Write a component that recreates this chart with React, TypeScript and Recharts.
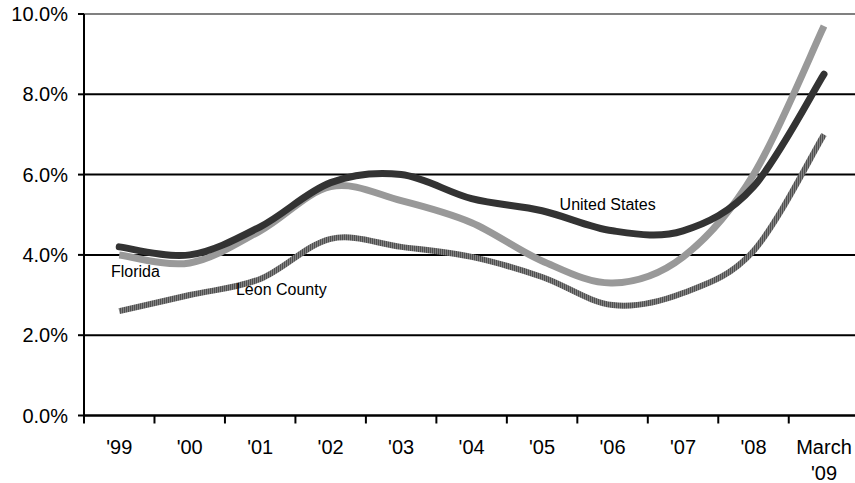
import { LineChart, Line, XAxis, YAxis, CartesianGrid, ReferenceLine, ReferenceDot, Label } from "recharts"

const YEARS = ["'99", "'00", "'01", "'02", "'03", "'04", "'05", "'06", "'07", "'08", "March\n'09"]
const US = [4.2, 4.0, 4.7, 5.8, 6.0, 5.4, 5.1, 4.6, 4.6, 5.7, 8.5]
const FLORIDA = [4.0, 3.8, 4.6, 5.7, 5.35, 4.8, 3.85, 3.3, 3.95, 6.0, 9.7]
const LEON = [2.6, 3.0, 3.4, 4.4, 4.2, 3.95, 3.45, 2.75, 3.05, 4.1, 7.0]
const Y_TICKS = [0, 2, 4, 6, 8, 10]
const BOUNDARY_TICKS = [0, 1, 2, 3, 4, 5, 6, 7, 8, 9, 10]

// series name labels, placed in data coordinates
const SERIES_LABELS = [
    { text: "Florida", x: 0.73, y: 3.6 },
    { text: "Leon County", x: 2.8, y: 3.15 },
    { text: "United States", x: 7.43, y: 5.27 },
]

const FONT = "'Liberation Sans', Arial, sans-serif"
const WIDTH = 855
const HEIGHT = 483
const Y_AXIS_W = 84
const X_MAX = 10.94 // last category runs a little past the right edge
const BAND = (WIDTH - Y_AXIS_W) / X_MAX

const rows = YEARS.map((label, i) => ({
    x: i + 0.5,
    label,
    us: US[i],
    florida: FLORIDA[i],
    leon: LEON[i],
}))

// spreadsheet-style smoothing (Catmull-Rom through every point)
const smoothCurve = (context: any) => {
    let pts: number[][] = []
    return {
        areaStart() {},
        areaEnd() {},
        lineStart() {
            pts = []
        },
        point(x: number, y: number) {
            pts.push([+x, +y])
        },
        lineEnd() {
            if (!pts.length) return
            context.moveTo(pts[0][0], pts[0][1])
            const t = 1 / 6
            for (let i = 0; i < pts.length - 1; i++) {
                const p0 = pts[i - 1] || pts[i]
                const p1 = pts[i]
                const p2 = pts[i + 1]
                const p3 = pts[i + 2] || p2
                context.bezierCurveTo(
                    p1[0] + (p2[0] - p0[0]) * t,
                    p1[1] + (p2[1] - p0[1]) * t,
                    p2[0] - (p3[0] - p1[0]) * t,
                    p2[1] - (p3[1] - p1[1]) * t,
                    p2[0],
                    p2[1]
                )
            }
        },
    }
}

// tick marks sit on category boundaries, labels in the middle of each category
const YearTick = ({ x, y, payload }: any) => {
    const lines = YEARS[payload.value].split("\n")
    const cx = x + BAND / 2
    return (
        <text x={cx} y={y} textAnchor="middle" fontSize={20} fontFamily={FONT} fill="#000">
            {lines.map((line, i) => (
                <tspan key={line} x={cx} dy={i === 0 ? "0.71em" : 26}>
                    {line}
                </tspan>
            ))}
        </text>
    )
}

export default function App() {
    return (
        <div style={{ position: "absolute", left: 0, top: 0, width: WIDTH, height: HEIGHT, background: "#fff" }}>
            <LineChart width={WIDTH} height={HEIGHT} data={rows} margin={{ top: 14, right: 0, left: 0, bottom: 0 }}>
                <defs>
                    <pattern id="leonHatch" patternUnits="userSpaceOnUse" width={2} height={2}>
                        <rect width={2} height={2} fill="#828282" />
                        <rect width={1} height={2} fill="#505050" />
                    </pattern>
                </defs>
                <CartesianGrid vertical={false} stroke="#000" strokeWidth={2} />
                <XAxis
                    type="number"
                    dataKey="x"
                    domain={[0, X_MAX]}
                    ticks={BOUNDARY_TICKS}
                    interval={0}
                    tick={<YearTick />}
                    tickSize={8}
                    tickMargin={16}
                    height={67.5}
                    axisLine={{ stroke: "#000", strokeWidth: 2 }}
                    tickLine={{ stroke: "#000", strokeWidth: 2 }}
                />
                <YAxis
                    domain={[0, 10]}
                    ticks={Y_TICKS}
                    width={Y_AXIS_W}
                    tickSize={6}
                    tickMargin={10}
                    tickFormatter={(v: number) => `${v.toFixed(1)}%`}
                    tick={{ fill: "#000", fontSize: 20, fontFamily: FONT }}
                    axisLine={{ stroke: "#000", strokeWidth: 2 }}
                    tickLine={{ stroke: "#000", strokeWidth: 2 }}
                    interval={0}
                />
                <ReferenceLine y={10} stroke="#808080" strokeWidth={2} />
                <Line
                    type={smoothCurve as any}
                    dataKey="leon"
                    stroke="url(#leonHatch)"
                    strokeWidth={6}
                    dot={false}
                    isAnimationActive={false}
                />
                <Line
                    type={smoothCurve as any}
                    dataKey="florida"
                    stroke="#999"
                    strokeWidth={7}
                    dot={false}
                    isAnimationActive={false}
                />
                <Line
                    type={smoothCurve as any}
                    dataKey="us"
                    stroke="#333"
                    strokeWidth={7}
                    strokeLinecap="round"
                    dot={false}
                    isAnimationActive={false}
                />
                {SERIES_LABELS.map((s) => (
                    <ReferenceDot key={s.text} x={s.x} y={s.y} r={0} fill="none" stroke="none">
                        <Label value={s.text} position="center" fontSize={16} fontFamily={FONT} fill="#000" />
                    </ReferenceDot>
                ))}
            </LineChart>
        </div>
    )
}
